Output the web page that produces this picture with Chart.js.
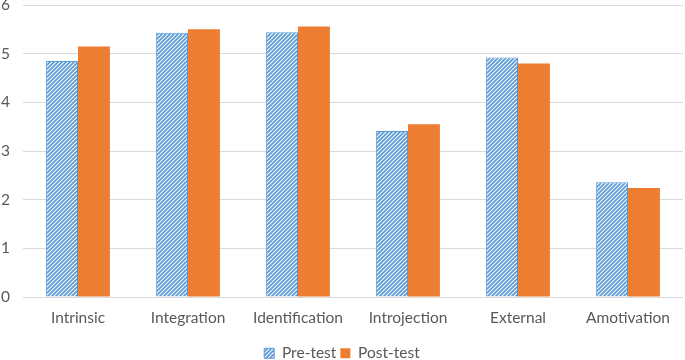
<!DOCTYPE html>
<html>
<head>
<meta charset="utf-8">
<script src="https://cdn.jsdelivr.net/npm/chart.js@4/dist/chart.umd.min.js"></script>
<style>
html,body{margin:0;padding:0;background:#fff;}
#wrap{width:685px;height:360px;}
</style>
</head>
<body>
<div id="wrap"><canvas id="c" width="685" height="360"></canvas></div>
<script>
const categories = ["Intrinsic", "Integration", "Identification", "Introjection", "External", "Amotivation"];
const preTest = [4.85, 5.43, 5.44, 3.41, 4.92, 2.36];
const postTest = [5.15, 5.50, 5.56, 3.55, 4.80, 2.24];
const seriesNames = ["Pre-test", "Post-test"];
const yTicks = [0, 1, 2, 3, 4, 5, 6];

function makeHatch() {
  const s = 4;
  const p = document.createElement('canvas');
  p.width = s; p.height = s;
  const g = p.getContext('2d');
  g.fillStyle = '#ffffff';
  g.fillRect(0, 0, s, s);
  g.strokeStyle = '#5B9BD5';
  g.lineWidth = 1.8;
  g.beginPath();
  g.moveTo(0, s); g.lineTo(s, 0);
  g.moveTo(-s/2, s/2); g.lineTo(s/2, -s/2);
  g.moveTo(s/2, s*1.5); g.lineTo(s*1.5, s/2);
  g.stroke();
  return document.getElementById('c').getContext('2d').createPattern(p, 'repeat');
}
const hatch = makeHatch();
const FONT = { family: 'Lato', size: 15.5 };

new Chart(document.getElementById('c'), {
  type: 'bar',
  data: {
    labels: categories,
    datasets: [
      { label: seriesNames[0], data: preTest, backgroundColor: hatch, borderColor: '#5B9BD5', borderWidth: 1 },
      { label: seriesNames[1], data: postTest, backgroundColor: '#ED7D31', borderColor: '#ED7D31', borderWidth: 0 }
    ]
  },
  options: {
    responsive: false,
    animation: false,
    devicePixelRatio: 1,
    layout: { padding: { left: 1, right: 2, top: 0, bottom: -11 } },
    datasets: { bar: { barPercentage: 1, categoryPercentage: 0.58 } },
    plugins: {
      legend: {
        position: 'bottom',
        labels: {
          boxWidth: 10, boxHeight: 10, padding: 4,
          color: '#595959',
          font: FONT,
          generateLabels(chart) {
            return chart.data.datasets.map((d, i) => ({
              text: d.label,
              fillStyle: i === 0 ? hatch : '#ED7D31',
              strokeStyle: i === 0 ? '#5B9BD5' : '#ED7D31',
              lineWidth: i === 0 ? 1 : 0,
              fontColor: '#595959',
              datasetIndex: i,
              hidden: false
            }));
          }
        }
      },
      tooltip: { enabled: false }
    },
    scales: {
      x: {
        grid: { display: false, drawTicks: false, tickLength: 0 },
        border: { display: false },
        ticks: { color: '#595959', font: FONT, padding: 12 },
        afterFit(axis) { axis.height = 44.5; }
      },
      y: {
        min: 0, max: 6,
        afterBuildTicks(axis) { axis.ticks = yTicks.map(v => ({ value: v })); },
        grid: { color: '#d9d9d9', lineWidth: 1, drawTicks: false, tickLength: 0 },
        border: { display: false },
        ticks: { color: '#595959', font: { family: 'Lato', size: 15.5, lineHeight: 0.65 }, padding: 0, crossAlign: 'far' },
        afterFit(axis) { axis.width = 22; }
      }
    }
  }
});
</script>
</body>
</html>
